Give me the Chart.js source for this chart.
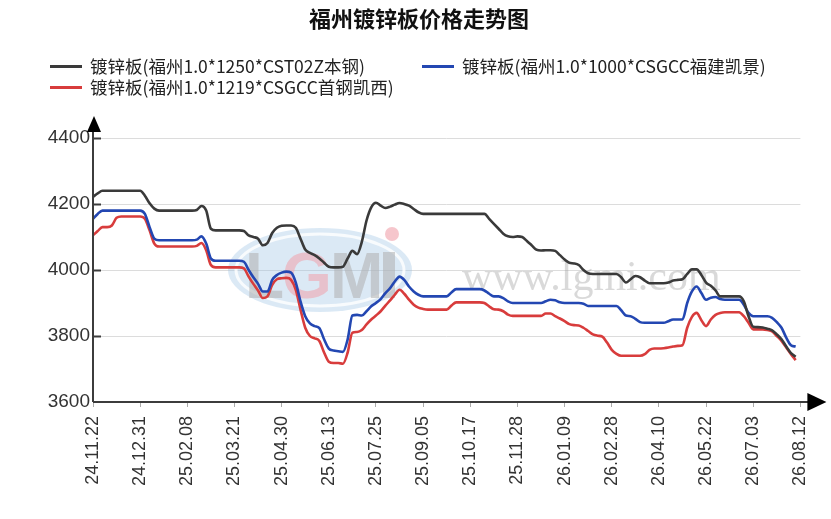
<!DOCTYPE html>
<html>
<head>
<meta charset="utf-8">
<script src="https://cdn.jsdelivr.net/npm/chart.js@4.4.1/dist/chart.umd.min.js"></script>
<style>
  html, body { margin: 0; padding: 0; background: #fff; }
  #wrap { position: relative; width: 831px; height: 519px; overflow: hidden; }
  #chart { position: absolute; left: 0; top: 0; }
  .title {
    position: absolute; left: 0; width: 838px; top: 4px; text-align: center;
    font: bold 22px "Noto Sans CJK SC", sans-serif; line-height: 26px; color: #111;
  }
  .leg { position: absolute; font: 17.5px "Noto Sans CJK SC", sans-serif; line-height: 22px; color: #222; white-space: nowrap; }
  .sw { position: absolute; width: 32px; height: 3px; }
</style>
</head>
<body>
<div id="wrap">
  <canvas id="chart" width="831" height="519"></canvas>
  <div class="title" id="title"></div>
  <div id="legend"></div>
</div>
<script>
// chart data
const chartTitle = '福州镀锌板价格走势图';
const seriesNames = [
  '镀锌板(福州1.0*1250*CST02Z本钢)',
  '镀锌板(福州1.0*1000*CSGCC福建凯景)',
  '镀锌板(福州1.0*1219*CSGCC首钢凯西)'
];
const tickLabels = ['24.11.22','24.12.31','25.02.08','25.03.21','25.04.30','25.06.13','25.07.25','25.09.05',
  '25.10.17','25.11.28','26.01.09','26.02.28','26.04.10','26.05.22','26.07.03','26.08.12'];
const pointsPerTick = 10;

const benGang = [
  4222,4232,4240,4240,4240,4240,4240,4240,4240,4240,
  4240,4225,4202,4186,4180,4180,4180,4180,4180,4180,
  4180,4180,4182,4194,4180,4125,4120,4120,4120,4120,
  4120,4120,4118,4105,4100,4095,4075,4082,4112,4128,
  4134,4135,4135,4128,4095,4062,4052,4045,4035,4022,
  4010,4008,4008,4010,4035,4058,4048,4085,4150,4190,
  4204,4195,4188,4192,4198,4203,4200,4195,4185,4175,
  4170,4170,4170,4170,4170,4170,4170,4170,4170,4170,
  4170,4170,4170,4170,4155,4140,4125,4110,4102,4100,
  4102,4100,4088,4075,4062,4059,4060,4060,4058,4045,
  4032,4022,4020,4015,4000,3990,3988,3988,3988,3988,
  3988,3988,3978,3962,3972,3982,3978,3968,3960,3960,
  3960,3960,3962,3968,3970,3972,3988,4002,4002,3985,
  3962,3952,3938,3920,3920,3920,3920,3920,3905,3860,
  3828,3827,3826,3822,3817,3805,3790,3768,3748,3737
];
const fujianKaijing = [
  4155,4170,4180,4180,4180,4180,4180,4180,4180,4180,
  4180,4170,4130,4095,4090,4090,4090,4090,4090,4090,
  4090,4090,4092,4102,4080,4035,4028,4028,4028,4028,
  4028,4028,4025,4000,3978,3958,3935,3935,3970,3985,
  3992,3995,3992,3962,3905,3860,3838,3830,3824,3790,
  3762,3756,3754,3752,3790,3862,3864,3862,3875,3890,
  3900,3912,3930,3945,3965,3980,3970,3950,3935,3925,
  3920,3920,3920,3920,3920,3920,3932,3942,3942,3942,
  3942,3942,3942,3938,3928,3920,3920,3915,3905,3900,
  3900,3900,3900,3900,3900,3900,3905,3910,3908,3902,
  3900,3900,3900,3900,3898,3891,3891,3891,3891,3891,
  3891,3891,3878,3862,3860,3852,3842,3840,3840,3840,
  3840,3840,3845,3850,3850,3850,3900,3935,3950,3930,
  3910,3916,3918,3912,3910,3910,3910,3910,3895,3870,
  3860,3860,3860,3860,3855,3842,3825,3795,3772,3768
];
const shougangKaixi = [
  4105,4118,4130,4130,4135,4158,4162,4162,4162,4162,
  4162,4155,4120,4080,4071,4071,4071,4071,4071,4071,
  4071,4071,4073,4082,4060,4015,4008,4008,4008,4008,
  4008,4008,4005,3980,3958,3938,3915,3920,3955,3972,
  3975,3976,3970,3940,3880,3825,3800,3793,3785,3750,
  3722,3718,3718,3716,3750,3810,3812,3818,3835,3850,
  3862,3875,3892,3908,3925,3940,3928,3910,3895,3886,
  3882,3880,3880,3880,3880,3880,3892,3902,3902,3902,
  3902,3902,3902,3900,3890,3881,3880,3875,3865,3861,
  3861,3861,3861,3861,3861,3861,3868,3868,3860,3853,
  3845,3836,3833,3832,3825,3815,3805,3801,3798,3780,
  3758,3746,3740,3740,3740,3740,3740,3745,3758,3762,
  3762,3763,3765,3768,3770,3772,3825,3858,3870,3848,
  3830,3850,3864,3870,3872,3872,3872,3872,3860,3840,
  3820,3820,3820,3818,3814,3800,3785,3765,3745,3727
];
const seriesValues = [benGang, fujianKaijing, shougangKaixi];
const seriesColors = ['#3a3a3a', '#2347b2', '#d83c3c'];

const yMin = 3600, yMax = 4400, yStep = 200;

// title + legend as html text
document.getElementById('title').textContent = chartTitle;
const legendPos = [[50, 66], [422, 66], [50, 87]];
const legendEl = document.getElementById('legend');
seriesNames.forEach((name, i) => {
  const [lx, ly] = legendPos[i];
  const sw = document.createElement('div');
  sw.className = 'sw';
  sw.style.left = lx + 'px';
  sw.style.top = (ly - 1) + 'px';
  sw.style.background = seriesColors[i];
  legendEl.appendChild(sw);
  const t = document.createElement('div');
  t.className = 'leg';
  t.style.left = (lx + 40) + 'px';
  t.style.top = (ly - 11) + 'px';
  t.textContent = name;
  legendEl.appendChild(t);
});

const decor = {
  id: 'decor',
  beforeDatasetsDraw(chart) {
    // faint watermark
    const ctx = chart.ctx;
    ctx.save();
    ctx.fillStyle = 'rgba(160,196,228,0.38)';
    ctx.beginPath();
    ctx.ellipse(320, 270, 92, 42, 0, 0, Math.PI * 2);
    ctx.fill();
    ctx.strokeStyle = 'rgba(255,255,255,0.8)';
    ctx.lineWidth = 3;
    ctx.beginPath();
    ctx.ellipse(320, 270, 84, 36, 0, 0, Math.PI * 2);
    ctx.stroke();
    ctx.font = 'bold 64px "Liberation Sans", Arial';
    ctx.textBaseline = 'alphabetic';
    ctx.fillStyle = 'rgba(175,175,175,0.55)';
    ctx.fillText('L', 245, 298);
    ctx.fillStyle = 'rgba(240,160,170,0.55)';
    ctx.fillText('G', 282, 298);
    ctx.fillStyle = 'rgba(175,175,175,0.55)';
    ctx.fillText('M', 330, 298);
    ctx.fillRect(383, 252, 12, 46);
    ctx.fillStyle = 'rgba(240,160,170,0.6)';
    ctx.beginPath();
    ctx.arc(392, 234, 7, 0, Math.PI * 2);
    ctx.fill();
    ctx.font = '42px "Liberation Serif", "DejaVu Serif", serif';
    ctx.fillStyle = 'rgba(160,160,160,0.4)';
    ctx.fillText('www.lgmi.com', 462, 290);
    ctx.restore();
  },
  afterDraw(chart) {
    const ctx = chart.ctx;
    const a = chart.chartArea;
    const ys = chart.scales.y;
    ctx.save();
    ctx.strokeStyle = '#3c3c3c';
    ctx.fillStyle = '#000';
    ctx.lineWidth = 2;
    // inner tick marks on y axis
    for (let v = yMin + yStep; v <= yMax; v += yStep) {
      const py = Math.round(ys.getPixelForValue(v)) + 0.5;
      ctx.beginPath();
      ctx.moveTo(a.left, py);
      ctx.lineTo(a.left + 8, py);
      ctx.stroke();
    }
    // axes with arrows
    ctx.beginPath();
    ctx.moveTo(a.left, a.bottom);
    ctx.lineTo(a.left, a.top - 6);
    ctx.moveTo(a.left, a.bottom);
    ctx.lineTo(a.right + 10, a.bottom);
    ctx.stroke();
    ctx.beginPath();
    ctx.moveTo(a.left + 1, a.top - 22);
    ctx.lineTo(a.left - 6, a.top - 6);
    ctx.lineTo(a.left + 8, a.top - 6);
    ctx.closePath();
    ctx.fill();
    ctx.beginPath();
    ctx.moveTo(a.right + 26, a.bottom);
    ctx.lineTo(a.right + 7, a.bottom - 9);
    ctx.lineTo(a.right + 7, a.bottom + 9);
    ctx.closePath();
    ctx.fill();
    ctx.restore();
  }
};

new Chart(document.getElementById('chart'), {
  type: 'line',
  data: {
    datasets: seriesNames.map((name, i) => ({
      label: name,
      data: seriesValues[i].map((v, k) => ({ x: k, y: v })),
      borderColor: seriesColors[i],
      backgroundColor: seriesColors[i],
      borderWidth: 2.6,
      pointRadius: 0,
      cubicInterpolationMode: 'monotone',
      fill: false
    }))
  },
  options: {
    responsive: false,
    animation: false,
    devicePixelRatio: 1,
    layout: { padding: { top: 138, right: 29, bottom: 0, left: 0 } },
    plugins: {
      legend: { display: false },
      title: { display: false },
      tooltip: { enabled: false }
    },
    scales: {
      x: {
        type: 'linear',
        min: 0,
        max: (tickLabels.length - 1) * pointsPerTick,
        afterFit: (s) => { s.height = 117; },
        border: { display: false },
        grid: { drawOnChartArea: false, drawTicks: true, tickLength: 5, color: '#aaa', tickColor: '#aaa' },
        ticks: {
          stepSize: pointsPerTick,
          autoSkip: false,
          maxRotation: 90,
          minRotation: 90,
          padding: 9,
          color: '#333',
          font: { family: '"Liberation Sans", Arial, sans-serif', size: 18 },
          callback: (v) => tickLabels[Math.round(v / pointsPerTick)]
        }
      },
      y: {
        min: yMin,
        max: yMax,
        afterFit: (s) => { s.width = 93; },
        border: { display: false },
        grid: { color: '#dcdcdc', lineWidth: 1, drawTicks: false },
        ticks: {
          stepSize: yStep,
          padding: 3,
          color: '#333',
          font: { family: '"Liberation Sans", Arial, sans-serif', size: 19 },
          callback: (v) => String(v)
        }
      }
    }
  },
  plugins: [decor]
});
</script>
</body>
</html>
